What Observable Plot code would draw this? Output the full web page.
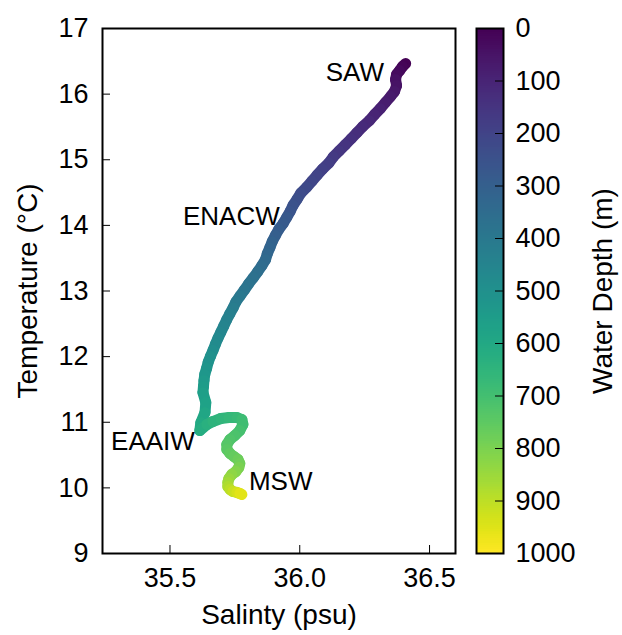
<!DOCTYPE html>
<html><head><meta charset="utf-8">
<script src="https://cdn.jsdelivr.net/npm/d3@7"></script>
<script src="https://cdn.jsdelivr.net/npm/@observablehq/plot@0.6"></script>
<style>
body{margin:0;background:#fff;}
#chart{position:relative;width:622px;height:635px;}
#chart svg{position:absolute;top:0;}
</style></head><body><div id="chart"></div>
<script>
const depth = [0,10,20,30,40,50,60,70,80,90,100,110,120,130,140,150,160,170,180,190,200,210,220,230,240,250,260,270,280,290,300,310,320,330,340,350,360,370,380,390,400,410,420,430,440,450,460,470,480,490,500,510,520,530,540,550,560,575,590,605,620,635,645,655,665,675,685,695,705,715,725,735,745,755,765,775,785,800,815,830,845,860,875,895,915,935,955,975];
const salinity = [36.408,36.396,36.385,36.373,36.369,36.373,36.365,36.350,36.330,36.310,36.288,36.268,36.242,36.220,36.198,36.175,36.152,36.129,36.112,36.088,36.067,36.047,36.027,36.004,35.990,35.974,35.963,35.950,35.936,35.919,35.906,35.894,35.885,35.875,35.868,35.854,35.838,35.821,35.803,35.787,35.770,35.754,35.743,35.730,35.718,35.707,35.696,35.685,35.675,35.666,35.656,35.647,35.641,35.634,35.631,35.629,35.627,35.638,35.635,35.619,35.615,35.642,35.665,35.696,35.727,35.758,35.777,35.781,35.769,35.750,35.731,35.719,35.719,35.731,35.746,35.762,35.769,35.765,35.754,35.738,35.727,35.723,35.723,35.731,35.742,35.758,35.769,35.777];
const temperature = [16.467,16.421,16.360,16.300,16.223,16.131,16.040,15.964,15.872,15.779,15.688,15.596,15.504,15.412,15.320,15.228,15.135,15.043,14.950,14.859,14.767,14.675,14.583,14.490,14.399,14.306,14.214,14.123,14.030,13.939,13.846,13.754,13.663,13.570,13.478,13.386,13.294,13.203,13.110,13.018,12.925,12.834,12.742,12.649,12.558,12.465,12.373,12.282,12.189,12.098,12.005,11.913,11.822,11.729,11.638,11.545,11.453,11.301,11.149,10.996,10.874,10.966,11.011,11.057,11.072,11.072,11.042,10.966,10.874,10.798,10.737,10.661,10.585,10.524,10.478,10.432,10.371,10.310,10.250,10.204,10.143,10.082,10.021,9.976,9.945,9.930,9.914,9.899];

const xTicks = [35.5, 36.0, 36.5];
const yTicks = [9, 10, 11, 12, 13, 14, 15, 16, 17];
const depthTicks = [0, 100, 200, 300, 400, 500, 600, 700, 800, 900, 1000];
const waterMasses = ["SAW", "ENACW", "EAAIW", "MSW"];
const massSal = [36.1, 35.55, 35.273, 35.804];
const massTemp = [16.2, 14.0, 10.57, 9.97];

const font = "'Liberation Sans', Arial, Helvetica, sans-serif";
const FS = 26, TFS = 27, LFS = 28;
const H = 635, mT = 28, mB = 82;
const color = {type: "linear", scheme: "viridis", domain: [0, 1000]};
const style = {fontFamily: font, fontSize: TFS + "px", background: "transparent", color: "black", overflow: "visible"};

const segs = depth.slice(0, -1).map((d, i) => ({
  x1: salinity[i], y1: temperature[i], x2: salinity[i + 1], y2: temperature[i + 1], d
}));

const mainW = 470, mL = 102, mR = 15;
const plotH = H - mT - mB, plotW = mainW - mL - mR;

const main = Plot.plot({
  width: mainW, height: H, marginLeft: mL, marginRight: mR, marginTop: mT, marginBottom: mB,
  style,
  x: {domain: [35.24, 36.6]},
  y: {domain: [9, 17]},
  color,
  marks: [
    Plot.link(segs, {x1: "x1", y1: "y1", x2: "x2", y2: "y2", stroke: "d", strokeWidth: 11, strokeLinecap: "round"}),
    Plot.text(waterMasses, {x: (d, i) => massSal[i], y: (d, i) => massTemp[i], text: d => d, textAnchor: "start", lineAnchor: "bottom", fontSize: FS}),
    Plot.tickX(xTicks, {x: d => d, insetTop: plotH - 8, stroke: "black"}),
    Plot.tickY(yTicks, {y: d => d, insetRight: plotW - 8, stroke: "black"}),
    Plot.axisX(xTicks, {tickSize: 0, tickPadding: 14, tickFormat: d3.format(".1f"), label: null, fontSize: TFS}),
    Plot.axisY(yTicks, {tickSize: 0, tickPadding: 14, tickFormat: d3.format("d"), label: null, fontSize: TFS}),
    Plot.frame({strokeWidth: 2, stroke: "black"}),
    Plot.text(["Salinty (psu)"], {text: d => d, frameAnchor: "bottom", textAnchor: "middle", lineAnchor: "bottom", dy: 70, fontSize: LFS}),
    Plot.text(["Temperature (\u00B0C)"], {text: d => d, frameAnchor: "left", textAnchor: "middle", lineAnchor: "middle", rotate: -90, dx: -74, fontSize: LFS})
  ]
});

const cbLeft = 470, cbW = 152, cbML = 6, cbBar = 27;
const cbSteps = d3.range(0, 1000, 2);
const cb = Plot.plot({
  width: cbW, height: H, marginLeft: cbML, marginRight: cbW - cbML - cbBar, marginTop: mT, marginBottom: mB,
  style,
  y: {domain: [0, 1000], reverse: true},
  color,
  marks: [
    Plot.rect(cbSteps, {y1: d => d, y2: d => d + 2.5, fill: d => d + 1, shapeRendering: "crispEdges"}),
    Plot.tickY(depthTicks.slice(1, -1), {y: d => d, insetLeft: cbBar - 8, stroke: "black"}),
    Plot.axisY(depthTicks, {anchor: "right", tickSize: 0, tickPadding: 12, tickFormat: d3.format("d"), label: null, fontSize: TFS}),
    Plot.frame({strokeWidth: 2, stroke: "black"}),
    Plot.text(["Water Depth (m)"], {text: d => d, frameAnchor: "right", textAnchor: "middle", lineAnchor: "middle", rotate: -90, dx: 100, fontSize: LFS})
  ]
});

main.style.left = "0px";
cb.style.left = cbLeft + "px";
const chart = document.getElementById("chart");
chart.appendChild(main);
chart.appendChild(cb);
</script>
</body></html>
